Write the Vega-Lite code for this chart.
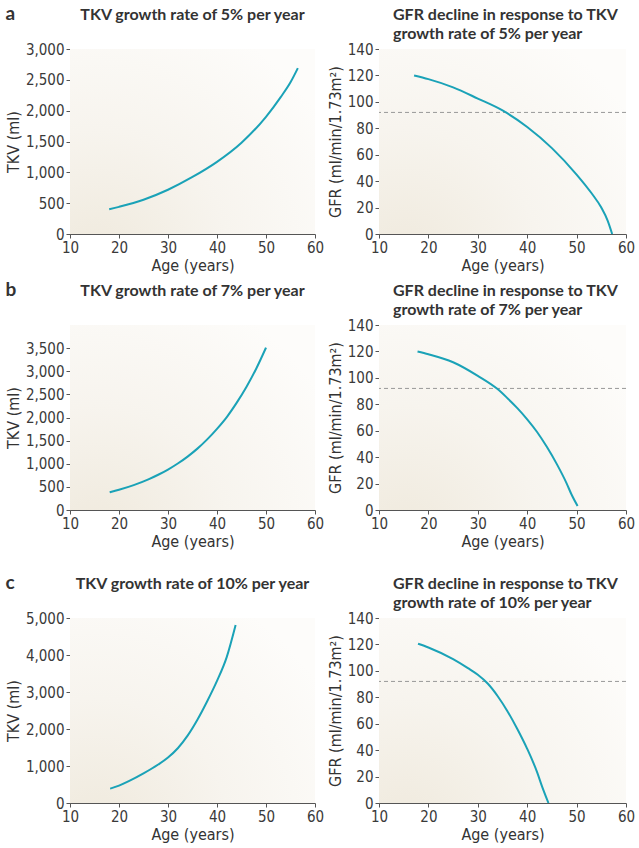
{
  "$schema": "https://vega.github.io/schema/vega-lite/v6.json",
  "background": "white",
  "padding": 5,
  "datasets": {
    "tkv5": [{"age":18,"v":400},{"age":20,"v":440},{"age":25,"v":556},{"age":30,"v":718},{"age":35,"v":925},{"age":40,"v":1170},{"age":45,"v":1480},{"age":50,"v":1900},{"age":53,"v":2220},{"age":55,"v":2460},{"age":56.5,"v":2690}],
    "gfr5": [{"age":17.1,"v":120},{"age":20,"v":117.2},{"age":25,"v":111},{"age":30,"v":102.5},{"age":35,"v":93.5},{"age":40,"v":81},{"age":45,"v":65},{"age":50,"v":45},{"age":53,"v":31},{"age":55,"v":20},{"age":56.3,"v":10},{"age":57.2,"v":0}],
    "tkv7": [{"age":18.1,"v":381},{"age":20,"v":437},{"age":23,"v":538},{"age":26,"v":663},{"age":28,"v":762},{"age":30,"v":875},{"age":32,"v":1005},{"age":34,"v":1155},{"age":36,"v":1327},{"age":38,"v":1527},{"age":40,"v":1755},{"age":42,"v":2010},{"age":44,"v":2316},{"age":46,"v":2660},{"age":48,"v":3055},{"age":50,"v":3510}],
    "gfr7": [{"age":17.8,"v":120},{"age":20,"v":117.9},{"age":25,"v":111.8},{"age":30,"v":101.5},{"age":34,"v":91.5},{"age":36,"v":84.6},{"age":38,"v":77.1},{"age":40,"v":68.6},{"age":42,"v":59},{"age":44,"v":47.6},{"age":46,"v":34.7},{"age":48,"v":20},{"age":49,"v":11.5},{"age":50.2,"v":3}],
    "tkv10": [{"age":18.2,"v":387},{"age":20,"v":470},{"age":22,"v":590},{"age":25,"v":800},{"age":28,"v":1040},{"age":30,"v":1230},{"age":32,"v":1480},{"age":34,"v":1820},{"age":36,"v":2250},{"age":38,"v":2750},{"age":40,"v":3300},{"age":42,"v":3950},{"age":43.8,"v":4810}],
    "gfr10": [{"age":17.9,"v":120.5},{"age":20,"v":117.7},{"age":25,"v":108.8},{"age":28,"v":102},{"age":30,"v":97},{"age":32,"v":90.4},{"age":34,"v":81},{"age":36,"v":69.5},{"age":38,"v":56},{"age":40,"v":41},{"age":42,"v":23.4},{"age":43,"v":12.6},{"age":44.3,"v":0}],
    "ref": [{"v":92}],
    "bg": [{}]
  },
  "config": {
    "view": {"stroke": null},
    "axis": {"grid": false, "domainColor": "#555", "tickColor": "#555", "tickSize": 4, "labelFlush": false, "labelFont": "Liberation Sans Narrow, DejaVu Sans Condensed, sans-serif", "labelFontSize": 15, "labelColor": "#3a3a3a", "labelPadding": 2, "titleFont": "Liberation Sans Narrow, DejaVu Sans Condensed, sans-serif", "titleFontSize": 16, "titleFontWeight": "normal", "titleColor": "#333"},
    "axisX": {"titlePadding": 2},
    "title": {"font": "Lato", "fontSize": 16, "fontWeight": "bold", "color": "#333", "lineHeight": 19, "frame": "group"}
  },
  "spacing": 8,
  "vconcat": [
    {
      "title": {"text": "a", "anchor": "start", "frame": "bounds", "fontSize": 19, "offset": -17},
      "spacing": 3,
      "hconcat": [
        {
          "width": 245, "height": 185,
          "title": {"text": "TKV growth rate of 5% per year", "offset": 19},
          "layer": [
            {"data": {"name": "bg"}, "mark": {"type": "rect", "fill": {"gradient": "radial", "x1": 0.1, "y1": 1, "r1": 0, "x2": 0.1, "y2": 1, "r2": 1.1, "stops": [{"offset": 0, "color": "#efe9dc"}, {"offset": 0.5, "color": "#f7f4ee"}, {"offset": 1, "color": "#fdfcfa"}]}},
             "encoding": {"x": {"datum": 10, "type": "quantitative", "scale": {"domain": [10, 60]}, "axis": {"values": [10,20,30,40,50,60], "title": "Age (years)"}}, "x2": {"datum": 60}, "y": {"datum": 0, "type": "quantitative", "scale": {"domain": [0, 3000]}, "axis": {"values": [0,500,1000,1500,2000,2500,3000], "format": ",d", "title": "TKV (ml)"}}, "y2": {"datum": 3000}}},
            {"data": {"name": "tkv5"}, "mark": {"type": "line", "color": "#1aa2b7", "strokeWidth": 2, "interpolate": "monotone"},
             "encoding": {"x": {"field": "age", "type": "quantitative", "scale": {"domain": [10, 60]}, "axis": {"values": [10,20,30,40,50,60], "title": "Age (years)"}}, "y": {"field": "v", "type": "quantitative", "scale": {"domain": [0, 3000]}, "axis": {"values": [0,500,1000,1500,2000,2500,3000], "format": ",d", "title": "TKV (ml)"}}}}
          ]
        },
        {
          "width": 247, "height": 185,
          "title": {"text": ["GFR decline in response to TKV", "growth rate of 5% per year"], "anchor": "start", "dx": 14, "offset": 0},
          "layer": [
            {"data": {"name": "bg"}, "mark": {"type": "rect", "fill": {"gradient": "radial", "x1": 0.1, "y1": 1, "r1": 0, "x2": 0.1, "y2": 1, "r2": 1.1, "stops": [{"offset": 0, "color": "#efe9dc"}, {"offset": 0.5, "color": "#f7f4ee"}, {"offset": 1, "color": "#fdfcfa"}]}},
             "encoding": {"x": {"datum": 10, "type": "quantitative", "scale": {"domain": [10, 60]}, "axis": {"values": [10,20,30,40,50,60], "title": "Age (years)"}}, "x2": {"datum": 60}, "y": {"datum": 0, "type": "quantitative", "scale": {"domain": [0, 140]}, "axis": {"values": [0,20,40,60,80,100,120,140], "title": "GFR (ml/min/1.73m²)"}}, "y2": {"datum": 140}}},
            {"data": {"name": "ref"}, "mark": {"type": "rule", "color": "#999", "strokeWidth": 1, "strokeDash": [4, 3]},
             "encoding": {"y": {"field": "v", "type": "quantitative", "scale": {"domain": [0, 140]}, "axis": {"values": [0,20,40,60,80,100,120,140], "title": "GFR (ml/min/1.73m²)"}}}},
            {"data": {"name": "gfr5"}, "mark": {"type": "line", "color": "#1aa2b7", "strokeWidth": 2, "interpolate": "monotone"},
             "encoding": {"x": {"field": "age", "type": "quantitative", "scale": {"domain": [10, 60]}, "axis": {"values": [10,20,30,40,50,60], "title": "Age (years)"}}, "y": {"field": "v", "type": "quantitative", "scale": {"domain": [0, 140]}, "axis": {"values": [0,20,40,60,80,100,120,140], "title": "GFR (ml/min/1.73m²)"}}}}
          ]
        }
      ]
    },
    {
      "spacing": 25,
      "vconcat": [
        {
          "title": {"text": "b", "anchor": "start", "frame": "bounds", "fontSize": 19, "offset": -17},
          "spacing": 3,
          "hconcat": [
            {
              "width": 245, "height": 185,
              "title": {"text": "TKV growth rate of 7% per year", "offset": 26},
              "layer": [
                {"data": {"name": "bg"}, "mark": {"type": "rect", "fill": {"gradient": "radial", "x1": 0.1, "y1": 1, "r1": 0, "x2": 0.1, "y2": 1, "r2": 1.1, "stops": [{"offset": 0, "color": "#efe9dc"}, {"offset": 0.5, "color": "#f7f4ee"}, {"offset": 1, "color": "#fdfcfa"}]}},
                 "encoding": {"x": {"datum": 10, "type": "quantitative", "scale": {"domain": [10, 60]}, "axis": {"values": [10,20,30,40,50,60], "title": "Age (years)"}}, "x2": {"datum": 60}, "y": {"datum": 0, "type": "quantitative", "scale": {"domain": [0, 4000]}, "axis": {"values": [0,500,1000,1500,2000,2500,3000,3500], "format": ",d", "title": "TKV (ml)"}}, "y2": {"datum": 4000}}},
                {"data": {"name": "tkv7"}, "mark": {"type": "line", "color": "#1aa2b7", "strokeWidth": 2, "interpolate": "monotone"},
                 "encoding": {"x": {"field": "age", "type": "quantitative", "scale": {"domain": [10, 60]}, "axis": {"values": [10,20,30,40,50,60], "title": "Age (years)"}}, "y": {"field": "v", "type": "quantitative", "scale": {"domain": [0, 4000]}, "axis": {"values": [0,500,1000,1500,2000,2500,3000,3500], "format": ",d", "title": "TKV (ml)"}}}}
              ]
            },
            {
              "width": 247, "height": 185,
              "title": {"text": ["GFR decline in response to TKV", "growth rate of 7% per year"], "anchor": "start", "dx": 14, "offset": 0},
              "layer": [
                {"data": {"name": "bg"}, "mark": {"type": "rect", "fill": {"gradient": "radial", "x1": 0.1, "y1": 1, "r1": 0, "x2": 0.1, "y2": 1, "r2": 1.1, "stops": [{"offset": 0, "color": "#efe9dc"}, {"offset": 0.5, "color": "#f7f4ee"}, {"offset": 1, "color": "#fdfcfa"}]}},
                 "encoding": {"x": {"datum": 10, "type": "quantitative", "scale": {"domain": [10, 60]}, "axis": {"values": [10,20,30,40,50,60], "title": "Age (years)"}}, "x2": {"datum": 60}, "y": {"datum": 0, "type": "quantitative", "scale": {"domain": [0, 140]}, "axis": {"values": [0,20,40,60,80,100,120,140], "title": "GFR (ml/min/1.73m²)"}}, "y2": {"datum": 140}}},
                {"data": {"name": "ref"}, "mark": {"type": "rule", "color": "#999", "strokeWidth": 1, "strokeDash": [4, 3]},
                 "encoding": {"y": {"field": "v", "type": "quantitative", "scale": {"domain": [0, 140]}, "axis": {"values": [0,20,40,60,80,100,120,140], "title": "GFR (ml/min/1.73m²)"}}}},
                {"data": {"name": "gfr7"}, "mark": {"type": "line", "color": "#1aa2b7", "strokeWidth": 2, "interpolate": "monotone"},
                 "encoding": {"x": {"field": "age", "type": "quantitative", "scale": {"domain": [10, 60]}, "axis": {"values": [10,20,30,40,50,60], "title": "Age (years)"}}, "y": {"field": "v", "type": "quantitative", "scale": {"domain": [0, 140]}, "axis": {"values": [0,20,40,60,80,100,120,140], "title": "GFR (ml/min/1.73m²)"}}}}
              ]
            }
          ]
        },
        {
          "title": {"text": "c", "anchor": "start", "frame": "bounds", "fontSize": 19, "offset": -17},
          "spacing": 3,
          "hconcat": [
            {
              "width": 245, "height": 185,
              "title": {"text": "TKV growth rate of 10% per year", "offset": 19},
              "layer": [
                {"data": {"name": "bg"}, "mark": {"type": "rect", "fill": {"gradient": "radial", "x1": 0.1, "y1": 1, "r1": 0, "x2": 0.1, "y2": 1, "r2": 1.1, "stops": [{"offset": 0, "color": "#efe9dc"}, {"offset": 0.5, "color": "#f7f4ee"}, {"offset": 1, "color": "#fdfcfa"}]}},
                 "encoding": {"x": {"datum": 10, "type": "quantitative", "scale": {"domain": [10, 60]}, "axis": {"values": [10,20,30,40,50,60], "title": "Age (years)"}}, "x2": {"datum": 60}, "y": {"datum": 0, "type": "quantitative", "scale": {"domain": [0, 5000]}, "axis": {"values": [0,1000,2000,3000,4000,5000], "format": ",d", "title": "TKV (ml)"}}, "y2": {"datum": 5000}}},
                {"data": {"name": "tkv10"}, "mark": {"type": "line", "color": "#1aa2b7", "strokeWidth": 2, "interpolate": "monotone"},
                 "encoding": {"x": {"field": "age", "type": "quantitative", "scale": {"domain": [10, 60]}, "axis": {"values": [10,20,30,40,50,60], "title": "Age (years)"}}, "y": {"field": "v", "type": "quantitative", "scale": {"domain": [0, 5000]}, "axis": {"values": [0,1000,2000,3000,4000,5000], "format": ",d", "title": "TKV (ml)"}}}}
              ]
            },
            {
              "width": 247, "height": 185,
              "title": {"text": ["GFR decline in response to TKV", "growth rate of 10% per year"], "anchor": "start", "dx": 14, "offset": 0},
              "layer": [
                {"data": {"name": "bg"}, "mark": {"type": "rect", "fill": {"gradient": "radial", "x1": 0.1, "y1": 1, "r1": 0, "x2": 0.1, "y2": 1, "r2": 1.1, "stops": [{"offset": 0, "color": "#efe9dc"}, {"offset": 0.5, "color": "#f7f4ee"}, {"offset": 1, "color": "#fdfcfa"}]}},
                 "encoding": {"x": {"datum": 10, "type": "quantitative", "scale": {"domain": [10, 60]}, "axis": {"values": [10,20,30,40,50,60], "title": "Age (years)"}}, "x2": {"datum": 60}, "y": {"datum": 0, "type": "quantitative", "scale": {"domain": [0, 140]}, "axis": {"values": [0,20,40,60,80,100,120,140], "title": "GFR (ml/min/1.73m²)"}}, "y2": {"datum": 140}}},
                {"data": {"name": "ref"}, "mark": {"type": "rule", "color": "#999", "strokeWidth": 1, "strokeDash": [4, 3]},
                 "encoding": {"y": {"field": "v", "type": "quantitative", "scale": {"domain": [0, 140]}, "axis": {"values": [0,20,40,60,80,100,120,140], "title": "GFR (ml/min/1.73m²)"}}}},
                {"data": {"name": "gfr10"}, "mark": {"type": "line", "color": "#1aa2b7", "strokeWidth": 2, "interpolate": "monotone"},
                 "encoding": {"x": {"field": "age", "type": "quantitative", "scale": {"domain": [10, 60]}, "axis": {"values": [10,20,30,40,50,60], "title": "Age (years)"}}, "y": {"field": "v", "type": "quantitative", "scale": {"domain": [0, 140]}, "axis": {"values": [0,20,40,60,80,100,120,140], "title": "GFR (ml/min/1.73m²)"}}}}
              ]
            }
          ]
        }
      ]
    }
  ]
}
